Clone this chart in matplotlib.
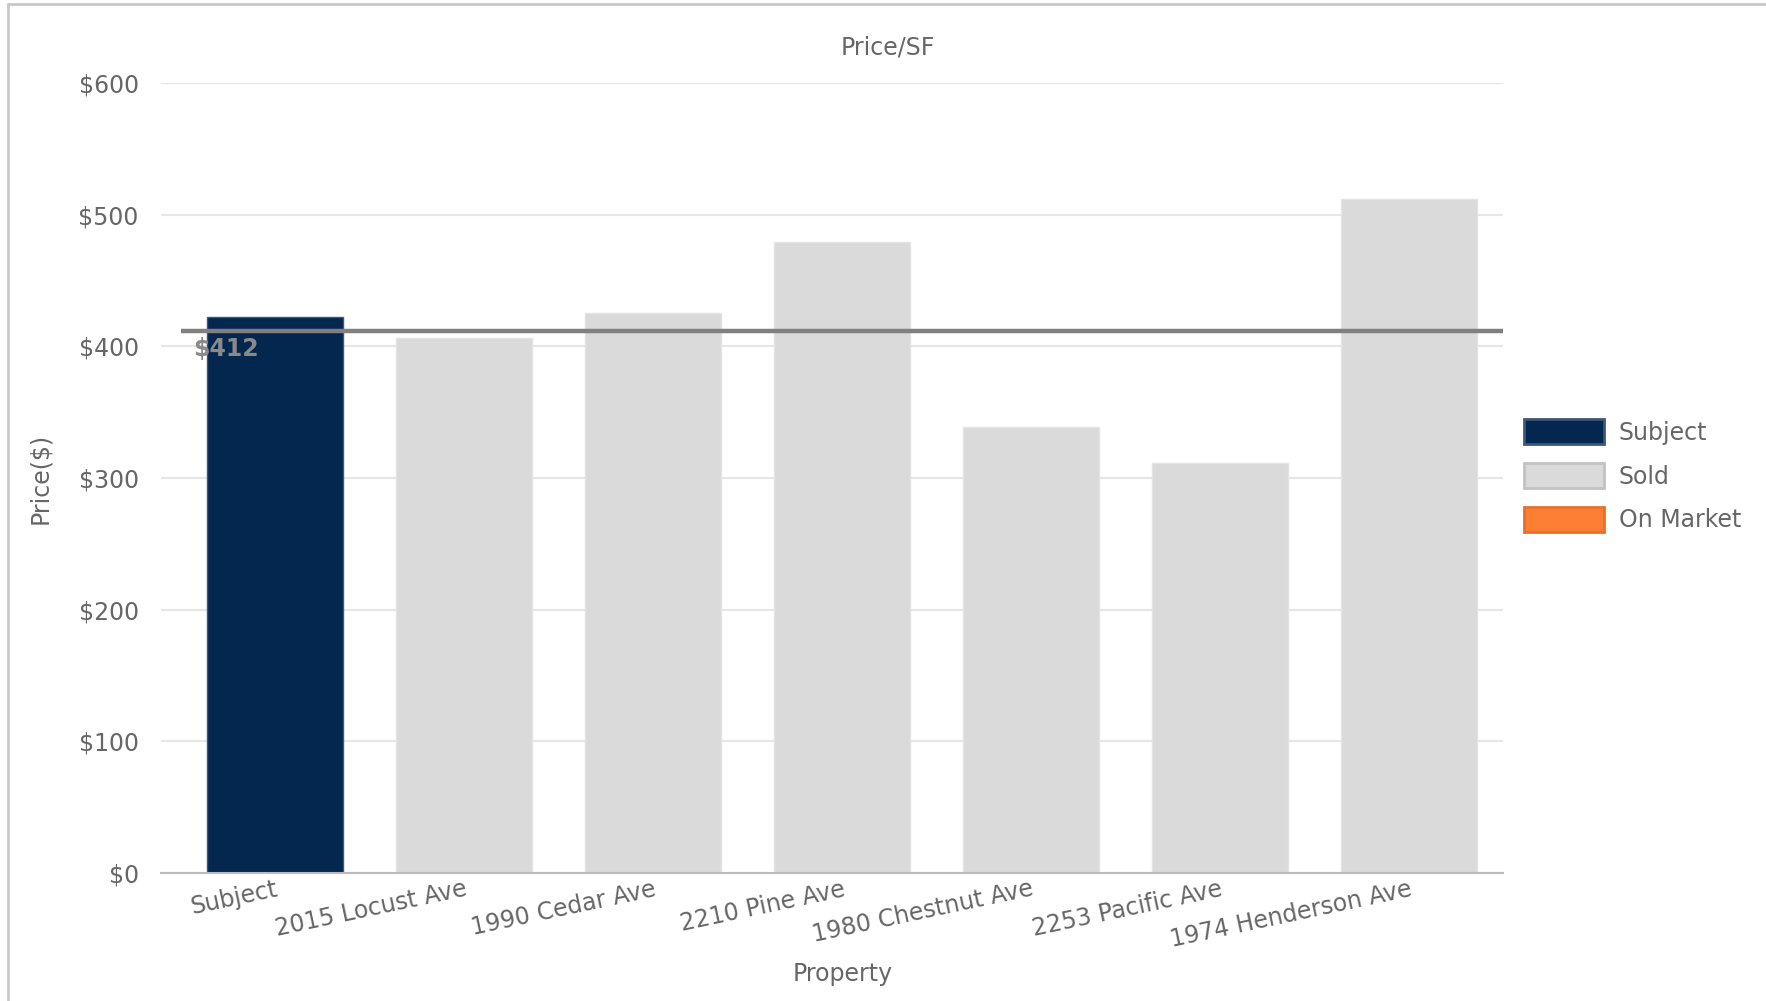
import matplotlib
matplotlib.use("Agg")
import matplotlib.pyplot as plt
from matplotlib.patches import Patch, Rectangle

# price per square foot for the subject and the comps
properties = ["Subject", "2015 Locust Ave", "1990 Cedar Ave", "2210 Pine Ave",
              "1980 Chestnut Ave", "2253 Pacific Ave", "1974 Henderson Ave"]
price_sf = [422, 406, 425, 479, 339, 311, 512]
status = ["Subject", "Sold", "Sold", "Sold", "Sold", "Sold", "Sold"]
avg_price = 412
yticks = [0, 100, 200, 300, 400, 500, 600]

fill = {"Subject": "#042750", "Sold": "#d9dad9", "On Market": "#fd7f33"}
edge = {"Subject": "#3b5878", "Sold": "#e4e4e4", "On Market": "#e8702a"}
txt = "#666666"

plt.rcParams["font.family"] = "DejaVu Sans"
plt.rcParams["font.size"] = 17

fig = plt.figure(figsize=(17.66, 10.01), dpi=100)
ax = fig.add_axes([0.0912, 0.128, 0.760, 0.789])

x = range(len(properties))
ax.bar(x, price_sf, width=0.72, color=[fill[s] for s in status],
       edgecolor=[edge[s] for s in status], linewidth=1, zorder=2)

# average line across the comps
ax.hlines(avg_price, -0.5, 6.5, color="#808080", linewidth=3.2, zorder=3)
ax.annotate("$%d" % avg_price, xy=(-0.45, avg_price), xytext=(2, -5),
            textcoords="offset points", ha="left", va="top",
            color="#8a8a8a", fontweight="bold", fontsize=17, zorder=4)

ax.set_xlim(-0.605, 6.5)
ax.set_ylim(0, 600)
ax.set_yticks(yticks)
ax.set_yticklabels(["$%d" % v for v in yticks], color=txt)
ax.set_xticks(list(x))
ax.set_xticklabels(properties, rotation=12, ha="right", va="top",
                   rotation_mode="anchor", color=txt)
for lbl in ax.get_xticklabels():
    lbl.set_x(lbl.get_position()[0])
ax.tick_params(axis="both", length=0)
ax.tick_params(axis="y", pad=16)
ax.tick_params(axis="x", pad=3)
ax.grid(axis="y", color="#e6e6e6", linewidth=1.5, zorder=0)
ax.set_axisbelow(True)
for side in ["top", "right", "left"]:
    ax.spines[side].set_visible(False)
ax.spines["bottom"].set_color("#bbbbbb")
ax.spines["bottom"].set_linewidth(1.5)

fig.text(0.503, 0.953, "Price/SF", ha="center", va="center", color=txt)
fig.text(0.477, 0.027, "Property", ha="center", va="center", color=txt)
fig.text(0.0227, 0.5225, "Price($)", ha="center", va="center",
         rotation=90, color=txt)

handles = [Patch(facecolor=fill[k], edgecolor=edge[k], linewidth=2)
           for k in ["Subject", "Sold", "On Market"]]
handles[1].set_edgecolor("#c2c2c2")
leg = fig.legend(handles, ["Subject", "Sold", "On Market"],
                 loc="center left", bbox_to_anchor=(0.851, 0.5245),
                 frameon=False, handlelength=3.4, handleheight=1.2,
                 labelspacing=0.8, handletextpad=0.6, fontsize=17)
for t in leg.get_texts():
    t.set_color(txt)

# light frame round the whole card
fig.patches.append(Rectangle((8 / 1766, -0.05), 1.1, 1 - 4 / 1001 + 0.05,
                             transform=fig.transFigure, fill=False,
                             edgecolor="#c8c8c8", linewidth=2))

fig.savefig("out.png", dpi=100)
